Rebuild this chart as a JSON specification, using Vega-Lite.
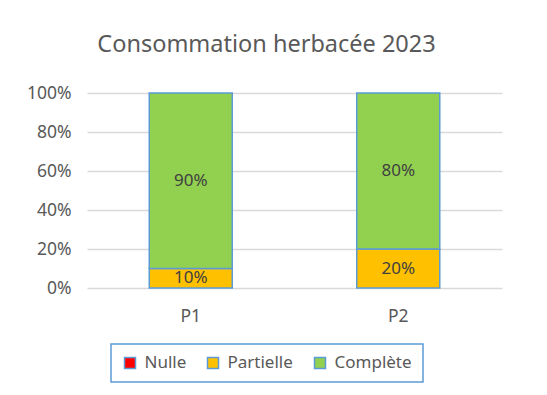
{
  "$schema": "https://vega.github.io/schema/vega-lite/v6.json",
  "autosize": {"type": "none"},
  "padding": {"left": 87, "top": 93, "right": 45, "bottom": 107},
  "width": 415,
  "height": 195,
  "background": "white",
  "title": {
    "text": "Consommation herbacée 2023",
    "font": "Noto Sans",
    "fontSize": 23.5,
    "fontWeight": "normal",
    "color": "#595959",
    "anchor": "middle",
    "dx": -28,
    "offset": 28
  },
  "data": {
    "values": [
      {"parcelle": "P1", "consommation": "Partielle", "rang": 1, "part": 0.1},
      {"parcelle": "P1", "consommation": "Complète", "rang": 2, "part": 0.9},
      {"parcelle": "P2", "consommation": "Partielle", "rang": 1, "part": 0.2},
      {"parcelle": "P2", "consommation": "Complète", "rang": 2, "part": 0.8}
    ]
  },
  "transform": [
    {"stack": "part", "groupby": ["parcelle"], "sort": [{"field": "rang"}], "as": ["bas", "haut"]},
    {"calculate": "(datum.bas + datum.haut) / 2", "as": "milieu"}
  ],
  "encoding": {
    "x": {
      "field": "parcelle",
      "type": "nominal",
      "scale": {"paddingInner": 0.6, "paddingOuter": 0.3},
      "axis": {
        "title": null,
        "labelAngle": 0,
        "domain": false,
        "ticks": false,
        "labelPadding": 19,
        "labelFont": "Noto Sans",
        "labelFontSize": 17.5,
        "labelColor": "#595959"
      }
    }
  },
  "layer": [
    {
      "mark": {"type": "bar", "stroke": "#5b9bd5", "strokeWidth": 1.5},
      "encoding": {
        "y": {
          "field": "bas",
          "type": "quantitative",
          "scale": {"domain": [0, 1]},
          "axis": {
            "title": null,
            "format": "%",
            "values": [0, 0.2, 0.4, 0.6, 0.8, 1],
            "labelOverlap": false,
            "domain": false,
            "ticks": false,
            "labelPadding": 16,
            "labelFont": "Noto Sans",
            "labelFontSize": 17.5,
            "labelColor": "#595959",
            "gridColor": "#d9d9d9",
            "gridWidth": 1.3
          }
        },
        "y2": {"field": "haut"},
        "color": {
          "field": "consommation",
          "type": "nominal",
          "scale": {
            "domain": ["Nulle", "Partielle", "Complète"],
            "range": ["#ff0000", "#ffc000", "#92d050"]
          },
          "legend": {
            "title": null,
            "orient": "none",
            "direction": "horizontal",
            "legendX": 24,
            "legendY": 251,
            "symbolType": "square",
            "symbolSize": 121,
            "symbolStrokeColor": "#5b9bd5",
            "symbolStrokeWidth": 1.5,
            "symbolOpacity": 1,
            "labelFont": "Noto Sans",
            "labelFontSize": 17,
            "labelColor": "#595959",
            "labelOffset": 6,
            "columnPadding": 18,
            "padding": 10.5,
            "strokeColor": "#5b9bd5",
            "fillColor": "white",
            "encode": {"legend": {"update": {"strokeWidth": {"value": 1.5}}}}
          }
        }
      }
    },
    {
      "mark": {"type": "text", "font": "Noto Sans", "fontSize": 17, "color": "#404040", "baseline": "middle"},
      "encoding": {
        "y": {
          "field": "milieu",
          "type": "quantitative",
          "axis": {
            "title": null,
            "format": "%",
            "values": [0, 0.2, 0.4, 0.6, 0.8, 1],
            "labelOverlap": false,
            "domain": false,
            "ticks": false,
            "labelPadding": 16,
            "labelFont": "Noto Sans",
            "labelFontSize": 17.5,
            "labelColor": "#595959",
            "gridColor": "#d9d9d9",
            "gridWidth": 1.3
          }
        },
        "text": {"field": "part", "type": "quantitative", "format": ".0%"}
      }
    }
  ],
  "config": {
    "view": {"stroke": null}
  }
}
